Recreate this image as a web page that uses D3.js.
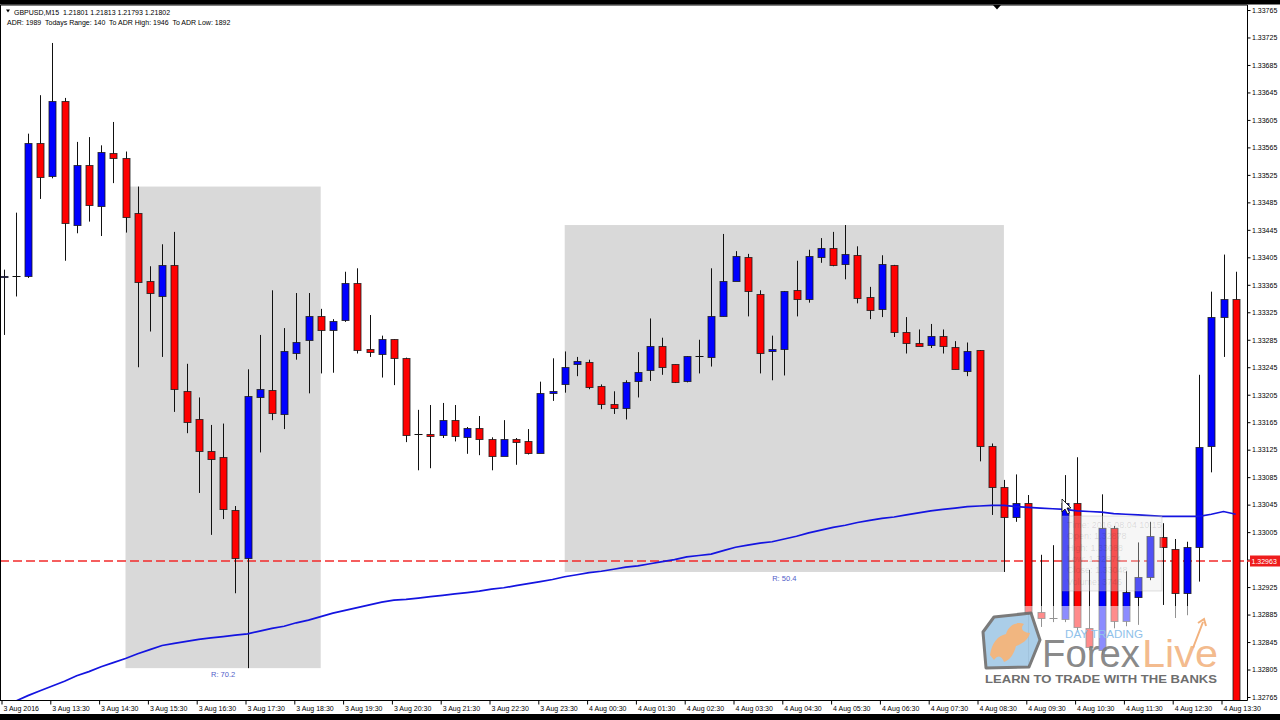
<!DOCTYPE html>
<html><head><meta charset="utf-8">
<script src="https://cdn.jsdelivr.net/npm/d3@7"></script>
<style>html,body{margin:0;padding:0;background:#fff;overflow:hidden}svg{display:block}</style>
</head><body><svg id="c" width="1280" height="720"></svg>
<script>
// ---- DATA (GBPUSD M15, 3 Aug 2016 12:30 -> 4 Aug 2016 13:45) ----
const opens=[1.33377,1.33378,1.33378,1.33571,1.33523,1.33633,1.33452,1.33539,1.33480,1.33557,
1.33549,1.33470,1.33370,1.33349,1.33394,1.33211,1.33169,1.33123,1.33115,1.33037,
1.32967,1.33202,1.33212,1.33177,1.33266,1.33285,1.33319,1.33299,1.33314,1.33368,
1.33271,1.33265,1.33286,1.33259,1.33148,1.33148,1.33146,1.33168,1.33144,1.33157,
1.33141,1.33116,1.33140,1.33138,1.33120,1.33207,1.33221,1.33249,1.33253,1.33218,
1.33192,1.33185,1.33225,1.33241,1.33276,1.33249,1.33225,1.33261,1.33260,1.33319,
1.33371,1.33405,1.33352,1.33268,1.33271,1.33357,1.33345,1.33406,1.33419,1.33396,
1.33408,1.33347,1.33330,1.33394,1.33297,1.33280,1.33278,1.33290,1.33274,1.33239,
1.33270,1.33130,1.33071,1.33027,1.33048,1.32888,1.32880,1.32878,1.33048,1.32866,
1.32833,1.33011,1.32875,1.32910,1.32939,1.32998,1.32981,1.32916,1.32983,1.33130,
1.33318,1.33344];
const highs=[1.33387,1.33470,1.33585,1.33641,1.33717,1.33637,1.33573,1.33580,1.33568,1.33602,
1.33559,1.33508,1.33392,1.33424,1.33442,1.33250,1.33201,1.33161,1.33163,1.33043,
1.33242,1.33292,1.33357,1.33302,1.33353,1.33353,1.33330,1.33315,1.33384,1.33389,
1.33321,1.33291,1.33286,1.33259,1.33183,1.33190,1.33193,1.33190,1.33158,1.33174,
1.33143,1.33168,1.33142,1.33155,1.33224,1.33258,1.33268,1.33260,1.33256,1.33220,
1.33210,1.33226,1.33267,1.33316,1.33288,1.33249,1.33261,1.33285,1.33389,1.33439,
1.33414,1.33410,1.33357,1.33291,1.33356,1.33400,1.33416,1.33433,1.33442,1.33452,
1.33421,1.33362,1.33408,1.33394,1.33318,1.33300,1.33308,1.33300,1.33283,1.33281,
1.33270,1.33134,1.33081,1.33089,1.33059,1.32972,1.32986,1.33088,1.33114,1.32950,
1.33060,1.33014,1.32948,1.32990,1.33020,1.33018,1.32995,1.32991,1.33234,1.33355,
1.33409,1.33384];
const lows=[1.33292,1.33348,1.33375,1.33490,1.33520,1.33400,1.33440,1.33457,1.33436,1.33513,
1.33441,1.33245,1.33297,1.33260,1.33180,1.33149,1.33062,1.33001,1.33024,1.32916,
1.32807,1.33121,1.33168,1.33155,1.33256,1.33207,1.33236,1.33237,1.33311,1.33265,
1.33260,1.33230,1.33219,1.33136,1.33095,1.33098,1.33142,1.33137,1.33119,1.33117,
1.33095,1.33116,1.33103,1.33118,1.33120,1.33196,1.33208,1.33232,1.33213,1.33184,
1.33177,1.33169,1.33201,1.33225,1.33234,1.33222,1.33223,1.33236,1.33246,1.33319,
1.33371,1.33319,1.33236,1.33226,1.33233,1.33319,1.33339,1.33397,1.33392,1.33373,
1.33338,1.33315,1.33318,1.33289,1.33265,1.33276,1.33273,1.33265,1.33242,1.33232,
1.33108,1.33030,1.32947,1.33020,1.32809,1.32867,1.32874,1.32874,1.32862,1.32833,
1.32826,1.32865,1.32868,1.32870,1.32935,1.32899,1.32880,1.32884,1.32933,1.33092,
1.33260,1.32740];
const closes=[1.33378,1.33378,1.33571,1.33522,1.33633,1.33455,1.33539,1.33481,1.33559,1.33550,
1.33463,1.33369,1.33353,1.33394,1.33213,1.33166,1.33123,1.33112,1.33038,1.32968,
1.33203,1.33213,1.33178,1.33268,1.33282,1.33320,1.33299,1.33313,1.33368,1.33270,
1.33267,1.33286,1.33258,1.33147,1.33148,1.33145,1.33168,1.33145,1.33157,1.33141,
1.33116,1.33140,1.33136,1.33120,1.33207,1.33210,1.33246,1.33254,1.33216,1.33191,
1.33185,1.33223,1.33238,1.33276,1.33246,1.33224,1.33261,1.33261,1.33320,1.33371,
1.33407,1.33356,1.33266,1.33272,1.33356,1.33345,1.33407,1.33419,1.33394,1.33410,
1.33346,1.33329,1.33396,1.33296,1.33280,1.33276,1.33291,1.33276,1.33242,1.33269,
1.33131,1.33071,1.33027,1.33047,1.32887,1.32880,1.32880,1.33048,1.32867,1.32838,
1.33011,1.32875,1.32918,1.32939,1.32999,1.32983,1.32916,1.32983,1.33129,1.33318,
1.33344,1.32750];
const maValues=[1.32752,1.32759,1.32767,1.32774,1.32781,1.32788,1.32796,1.32802,1.32809,1.32815,
1.32821,1.32828,1.32834,1.32840,1.32843,1.32846,1.32849,1.32851,1.32853,1.32855,
1.32857,1.32861,1.32865,1.32868,1.32873,1.32877,1.32882,1.32887,1.32891,1.32895,
1.32899,1.32903,1.32906,1.32907,1.32909,1.32911,1.32913,1.32915,1.32917,1.32919,
1.32922,1.32924,1.32927,1.32930,1.32933,1.32936,1.32940,1.32943,1.32946,1.32948,
1.32951,1.32954,1.32956,1.32959,1.32962,1.32965,1.32969,1.32971,1.32973,1.32978,
1.32983,1.32986,1.32989,1.32991,1.32995,1.32999,1.33004,1.33008,1.33012,1.33015,
1.33019,1.33022,1.33025,1.33027,1.33030,1.33033,1.33036,1.33038,1.33040,1.33042,
1.33043,1.33044,1.33044,1.33042,1.33041,1.33040,1.33039,1.33038,1.33036,1.33035,
1.33034,1.33032,1.33031,1.33030,1.33029,1.33028,1.33028,1.33028,1.33028,1.33031,
1.33035,1.33031];
const timeLabels=["3 Aug 2016","3 Aug 13:30","3 Aug 14:30","3 Aug 15:30","3 Aug 16:30","3 Aug 17:30",
"3 Aug 18:30","3 Aug 19:30","3 Aug 20:30","3 Aug 21:30","3 Aug 22:30","3 Aug 23:30","4 Aug 00:30",
"4 Aug 01:30","4 Aug 02:30","4 Aug 03:30","4 Aug 04:30","4 Aug 05:30","4 Aug 06:30","4 Aug 07:30",
"4 Aug 08:30","4 Aug 09:30","4 Aug 10:30","4 Aug 11:30","4 Aug 12:30","4 Aug 13:30"];
const timeLabelBars=[0,4,8,12,16,20,24,28,32,36,40,44,48,52,56,60,64,68,72,76,80,84,88,92,96,100];
const priceTicks=[1.33765,1.33725,1.33685,1.33645,1.33605,1.33565,1.33525,1.33485,1.33445,1.33405,
1.33365,1.33325,1.33285,1.33245,1.33205,1.33165,1.33125,1.33085,1.33045,1.33005,1.32965,1.32925,
1.32885,1.32845,1.32805,1.32765];
const boxFrom=[10,46], boxTo=[26,82], boxTop=[1.33508,1.33452], boxBottom=[1.32807,1.32947];
const boxLabels=["R: 70.2","R: 50.4"];
const alertPrice=1.32963;
const headerLine1="GBPUSD,M15  1.21801 1.21813 1.21793 1.21802";
const headerLine2="ADR: 1989  Todays Range: 140  To ADR High: 1946  To ADR Low: 1892";
const tooltipLines=["Time: 2016.08.04 10:15","Open: 1.32878","High: 1.33088","Low: 1.32874","Close: 1.33048","Volume: 3746"];

// ---- DRAW ----
const font='"Liberation Sans", Arial, sans-serif';
const svg=d3.select('#c');
const x=d3.scaleLinear().domain([0,101]).range([3.5,1235.7]);
const y=d3.scaleLinear().domain([1.32765,1.33765]).range([697,10]);
const plotR=1247, plotT=5, plotB=700;

svg.append('rect').attr('width',1280).attr('height',720).attr('fill','#fff');
svg.append('defs').append('clipPath').attr('id','plot').append('rect')
  .attr('x',1).attr('y',plotT).attr('width',plotR-1).attr('height',plotB-plotT);
const g=svg.append('g').attr('clip-path','url(#plot)');

// rectangles
boxFrom.forEach((f,k)=>{
  g.append('rect').attr('x',x(f)).attr('y',y(boxTop[k]))
   .attr('width',x(boxTo[k])-x(f)).attr('height',y(boxBottom[k])-y(boxTop[k]))
   .attr('fill','#d9d9d9');
  g.append('text').attr('x',(x(f)+x(boxTo[k]))/2).attr('y',y(boxBottom[k])+9)
   .attr('text-anchor','middle').attr('font-family',font).attr('font-size',7.5)
   .attr('fill','#5060c8').text(boxLabels[k]);
});

// alert line
const ay=Math.round(y(alertPrice));
g.append('line').attr('x1',0).attr('x2',plotR).attr('y1',ay).attr('y2',ay)
 .attr('stroke','#f22a2a').attr('stroke-width',1.6).attr('stroke-dasharray','9,4');

// candles
const idx=d3.range(opens.length);
const cg=g.append('g');
idx.forEach(i=>{
  const cx=Math.round(x(i))+0.5;
  cg.append('line').attr('x1',cx).attr('x2',cx).attr('y1',y(highs[i])).attr('y2',y(lows[i]))
    .attr('stroke','#111').attr('stroke-width',1);
  const o=opens[i], c=closes[i];
  if(o===c){
    cg.append('line').attr('x1',cx-4).attr('x2',cx+4).attr('y1',Math.round(y(o))+0.5).attr('y2',Math.round(y(o))+0.5)
      .attr('stroke','#111').attr('stroke-width',1);
  } else {
    const top=Math.round(y(Math.max(o,c))), bot=Math.round(y(Math.min(o,c)));
    cg.append('rect').attr('x',cx-3.5).attr('y',top+0.5).attr('width',7).attr('height',Math.max(1,bot-top))
      .attr('fill',c>o?'#0000ff':'#ff0000').attr('stroke','#1a1a1a').attr('stroke-opacity',0.8).attr('stroke-width',1);
  }
});

// moving average
g.append('path').datum(maValues)
 .attr('d',d3.line().x((d,i)=>x(i)).y(d=>y(d)))
 .attr('fill','none').attr('stroke','#1414e0').attr('stroke-width',1.7);

// tooltip (faint)
const tt=g.append('g');
tt.append('rect').attr('x',1062).attr('y',516).attr('width',100).attr('height',75)
  .attr('fill','#e6e6e6').attr('fill-opacity',0.35).attr('stroke','#999').attr('stroke-opacity',0.3);
tooltipLines.forEach((t,k)=>tt.append('text').attr('x',1067).attr('y',528+k*11.3)
  .attr('font-family',font).attr('font-size',9).attr('fill','#000').attr('fill-opacity',0.13).text(t));

// logo
const lg=svg.append('g');
lg.append('rect').attr('x',976).attr('y',606).attr('width',248).attr('height',86).attr('fill','#fff').attr('fill-opacity',0.55);
lg.append('path').attr('d','M994,617 L1031,613 L1040,640 L1029,667 L986,668 L983,632 Z')
  .attr('fill','#a3c9e6').attr('stroke','#6d6d6d').attr('stroke-width',3).attr('stroke-linejoin','round').attr('opacity',0.9);
lg.append('path').attr('d','M990,655 C992,642 998,636 1006,634 C1008,626 1016,621 1024,624 C1020,628 1022,632 1030,633 C1028,640 1022,644 1016,646 C1014,654 1010,660 1004,662 C1002,656 998,654 994,660 Z')
  .attr('fill','#f4b47a').attr('opacity',0.95);
lg.append('text').attr('x',1065).attr('y',638).attr('font-family',font).attr('font-size',10)
  .attr('fill','#8fc1ea').attr('textLength',78).attr('lengthAdjust','spacingAndGlyphs').text('DAY TRADING');
lg.append('text').attr('x',1042).attr('y',667).attr('font-family',font).attr('font-size',38)
  .attr('fill','#7a7a7a').attr('fill-opacity',0.9).attr('textLength',98).attr('lengthAdjust','spacingAndGlyphs').text('Forex');
lg.append('text').attr('x',1142).attr('y',667).attr('font-family',font).attr('font-size',38)
  .attr('fill','#f2b27e').attr('fill-opacity',0.9).attr('textLength',76).attr('lengthAdjust','spacingAndGlyphs').text('Live');
lg.append('path').attr('d','M1193,648 L1203,622 M1198,623 L1204,619 L1206,626').attr('stroke','#f2b27e').attr('stroke-width',2).attr('fill','none');
lg.append('text').attr('x',985).attr('y',683).attr('font-family',font).attr('font-size',11.5).attr('font-weight','bold')
  .attr('fill','#6e6e6e').attr('textLength',232).attr('lengthAdjust','spacingAndGlyphs').text('LEARN TO TRADE WITH THE BANKS');

// cursor
svg.append('path').attr('d','M1062,499 L1062,512 L1065,509 L1067.5,514 L1069.5,513 L1067,508 L1071,508 Z')
  .attr('fill','#fff').attr('stroke','#000').attr('stroke-width',0.8);

// frame & axes
svg.append('rect').attr('x',0).attr('y',0).attr('width',1280).attr('height',4.5).attr('fill','#000');
svg.append('rect').attr('x',0).attr('y',714).attr('width',1280).attr('height',6).attr('fill','#000');
svg.append('line').attr('x1',0.5).attr('x2',plotR+0.5).attr('y1',5).attr('y2',5).attr('stroke','#000');
svg.append('line').attr('x1',0.5).attr('x2',0.5).attr('y1',5).attr('y2',plotB).attr('stroke','#000');
svg.append('line').attr('x1',plotR+0.5).attr('x2',plotR+0.5).attr('y1',5).attr('y2',plotB+0.5).attr('stroke','#000');
svg.append('line').attr('x1',0).attr('x2',plotR+0.5).attr('y1',plotB+0.5).attr('y2',plotB+0.5).attr('stroke','#000');
svg.append('path').attr('d','M993,5 L1001,5 L997,9.5 Z').attr('fill','#000');

const ya=svg.append('g').attr('transform',`translate(${plotR+0.5},0)`)
  .call(d3.axisRight(y).tickValues(priceTicks).tickSize(3).tickFormat(d3.format('.5f')));
ya.select('.domain').remove();
ya.selectAll('text').attr('x',4.5).attr('dy','0.33em').attr('font-family',font).attr('font-size',7).attr('fill','#000');
ya.selectAll('line').attr('stroke','#000');

const xa=svg.append('g').attr('transform',`translate(-2,${plotB+0.5})`)
  .call(d3.axisBottom(x).tickValues(timeLabelBars).tickSize(4).tickFormat((d,k)=>timeLabels[k]));
xa.select('.domain').remove();
xa.selectAll('text').attr('x',1.5).attr('y',6).attr('dy','0.71em').attr('text-anchor','start')
  .attr('font-family',font).attr('font-size',7).attr('fill','#000');
xa.selectAll('line').attr('stroke','#000');

// alert label
svg.append('line').attr('x1',plotR).attr('x2',plotR+4).attr('y1',ay).attr('y2',ay).attr('stroke','#f22a2a').attr('stroke-width',1.6);
svg.append('rect').attr('x',plotR+3).attr('y',ay-5.5).attr('width',32).attr('height',11).attr('fill','#ee1c1c');
svg.append('text').attr('x',plotR+4.5).attr('y',ay+2.5).attr('font-family',font).attr('font-size',7)
  .attr('fill','#fff').text(d3.format('.5f')(alertPrice));

// header
svg.append('path').attr('d','M6,9.5 L10,9.5 L8,12.5 Z').attr('fill','#000');
svg.append('text').attr('x',14).attr('y',14.5).attr('font-family',font).attr('font-size',7).attr('fill','#000')
  .style('white-space','pre').text(headerLine1);
svg.append('text').attr('x',7).attr('y',24.5).attr('font-family',font).attr('font-size',7).attr('fill','#000')
  .style('white-space','pre').text(headerLine2);
</script></body></html>
